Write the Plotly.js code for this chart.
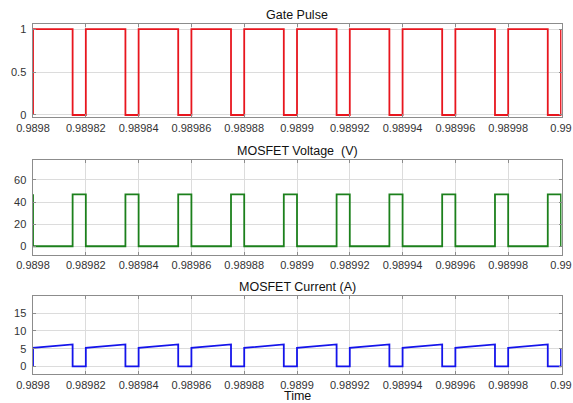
<!DOCTYPE html>
<html>
<head>
<meta charset="utf-8">
<script src="https://cdn.plot.ly/plotly-3.0.1.min.js"></script>
<style>html,body{margin:0;padding:0;background:#fff;}#chart{width:573px;height:403px;}</style>
</head>
<body>
<div id="chart"></div>
<script>
// Edge times (each edge listed twice: value before and after the switch)
const time = [
  0.9898, 0.9898, 0.989815, 0.989815,
  0.98982, 0.98982, 0.989835, 0.989835,
  0.98984, 0.98984, 0.989855, 0.989855,
  0.98986, 0.98986, 0.989875, 0.989875,
  0.98988, 0.98988, 0.989895, 0.989895,
  0.9899, 0.9899, 0.989915, 0.989915,
  0.98992, 0.98992, 0.989935, 0.989935,
  0.98994, 0.98994, 0.989955, 0.989955,
  0.98996, 0.98996, 0.989975, 0.989975,
  0.98998, 0.98998, 0.989995, 0.989995,
  0.99, 0.99
];
const gatePulse = [
  0, 1, 1, 0,
  0, 1, 1, 0,
  0, 1, 1, 0,
  0, 1, 1, 0,
  0, 1, 1, 0,
  0, 1, 1, 0,
  0, 1, 1, 0,
  0, 1, 1, 0,
  0, 1, 1, 0,
  0, 1, 1, 0,
  0, 1
];
const mosfetVoltage = [
  47, 0, 0, 47,
  47, 0, 0, 47,
  47, 0, 0, 47,
  47, 0, 0, 47,
  47, 0, 0, 47,
  47, 0, 0, 47,
  47, 0, 0, 47,
  47, 0, 0, 47,
  47, 0, 0, 47,
  47, 0, 0, 47,
  47, 0
];
const mosfetCurrent = [
  0, 5.2, 6.2, 0,
  0, 5.2, 6.2, 0,
  0, 5.2, 6.2, 0,
  0, 5.2, 6.2, 0,
  0, 5.2, 6.2, 0,
  0, 5.2, 6.2, 0,
  0, 5.2, 6.2, 0,
  0, 5.2, 6.2, 0,
  0, 5.2, 6.2, 0,
  0, 5.2, 6.2, 0,
  0, 5.2
];
const xTickVals = [0.9898, 0.98982, 0.98984, 0.98986, 0.98988, 0.9899, 0.98992, 0.98994, 0.98996, 0.98998, 0.99];
const xTickText = ['0.9898', '0.98982', '0.98984', '0.98986', '0.98988', '0.9899', '0.98992', '0.98994', '0.98996', '0.98998', '0.99'];
const gateTicks = [0, 0.5, 1];
const gateTickText = ['0', '0.5', '1'];
const voltTicks = [0, 20, 40, 60];
const currTicks = [0, 5, 10, 15];
const panelTitles = ['Gate Pulse', 'MOSFET Voltage  (V)', 'MOSFET Current (A)'];
const xTitle = 'Time';

const W = 573, H = 403;
const font = 'Liberation Sans, Arial, Helvetica, sans-serif';
const xDom = [32.5 / W, 561.5 / W];
const py = (top, bot) => [(H - bot) / H, (H - top) / H];

const traces = [
  {x: time, y: gatePulse, xaxis: 'x', yaxis: 'y', mode: 'lines',
   line: {color: 'rgb(232,22,30)', width: 1.8}, hoverinfo: 'skip'},
  {x: time, y: mosfetVoltage, xaxis: 'x2', yaxis: 'y2', mode: 'lines',
   line: {color: 'rgb(28,128,28)', width: 1.8}, hoverinfo: 'skip'},
  {x: time, y: mosfetCurrent, xaxis: 'x3', yaxis: 'y3', mode: 'lines',
   line: {color: 'rgb(20,20,235)', width: 1.8}, hoverinfo: 'skip'}
];

function xax(anchor) {
  return {
    domain: xDom, anchor: anchor, range: [0.9897998, 0.9900002],
    tickmode: 'array', tickvals: xTickVals, ticktext: xTickText,
    showgrid: true, gridcolor: '#dcdcdc', gridwidth: 1,
    showline: true, linecolor: '#8c8c8c', linewidth: 1, mirror: 'ticks',
    ticks: 'inside', ticklen: 3, tickcolor: '#8c8c8c',
    tickfont: {family: font, size: 11, color: '#333'},
    zeroline: false, fixedrange: true
  };
}
function yax(anchor, dom, range, vals, text) {
  return {
    domain: dom, anchor: anchor, range: range,
    tickmode: 'array', tickvals: vals, ticktext: text || vals.map(String),
    showgrid: true, gridcolor: '#dcdcdc', gridwidth: 1,
    showline: true, linecolor: '#8c8c8c', linewidth: 1, mirror: 'ticks',
    ticks: 'inside', ticklen: 3, tickcolor: '#8c8c8c',
    tickfont: {family: font, size: 11, color: '#333'},
    ticklabelstandoff: 3,
    zeroline: false, fixedrange: true
  };
}

const layout = {
  width: W, height: H,
  margin: {l: 0, r: 0, t: 0, b: 0},
  paper_bgcolor: '#fff', plot_bgcolor: '#fff',
  showlegend: false,
  xaxis: xax('y'),
  yaxis: yax('x', py(24.3, 117.3), [-0.027, 1.055], gateTicks, gateTickText),
  xaxis2: xax('y2'),
  yaxis2: yax('x2', py(160, 255), [-7.9, 78.1], voltTicks),
  xaxis3: xax('y3'),
  yaxis3: yax('x3', py(296, 374.3), [-2.26, 19.9], currTicks),
  annotations: [
    {text: panelTitles[0], xref: 'paper', yref: 'paper', x: 297 / W, y: (H - 15) / H,
     xanchor: 'center', yanchor: 'middle', showarrow: false, font: {family: font, size: 12.5, color: '#111'}},
    {text: panelTitles[1], xref: 'paper', yref: 'paper', x: 297 / W, y: (H - 151) / H,
     xanchor: 'center', yanchor: 'middle', showarrow: false, font: {family: font, size: 12.5, color: '#111'}},
    {text: panelTitles[2], xref: 'paper', yref: 'paper', x: 297 / W, y: (H - 287) / H,
     xanchor: 'center', yanchor: 'middle', showarrow: false, font: {family: font, size: 12.5, color: '#111'}},
    {text: xTitle, xref: 'paper', yref: 'paper', x: 297 / W, y: (H - 395.5) / H,
     xanchor: 'center', yanchor: 'middle', showarrow: false, font: {family: font, size: 12.5, color: '#111'}}
  ]
};

Plotly.newPlot('chart', traces, layout, {staticPlot: true, displayModeBar: false});
</script>
</body>
</html>
